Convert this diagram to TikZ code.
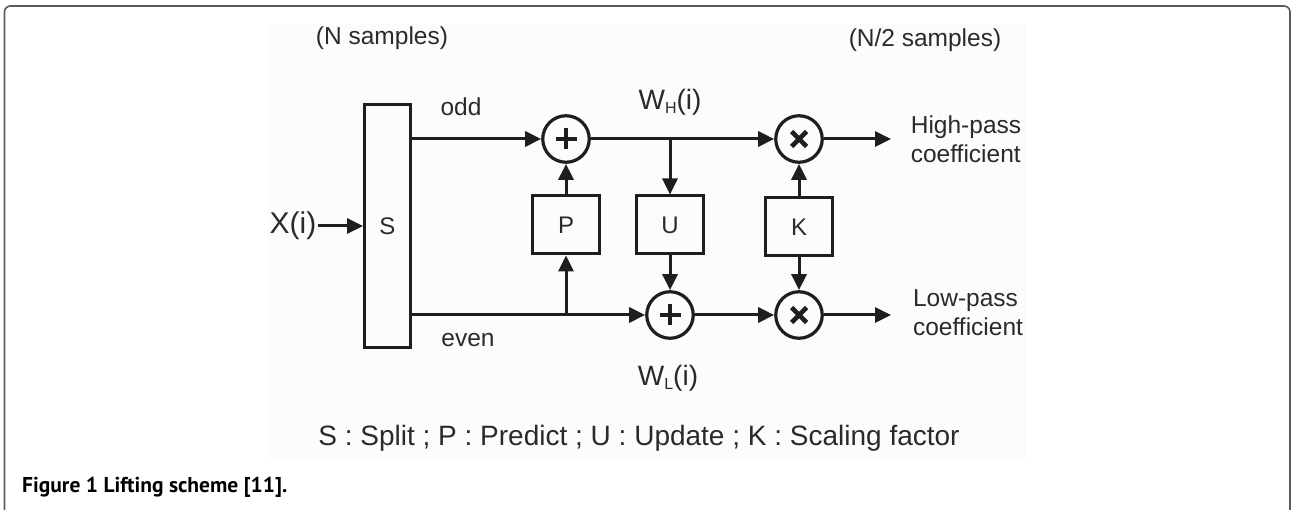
\documentclass[tikz,border=0pt]{standalone}
\usepackage{fontspec}
\setmainfont{Liberation Sans}
\newfontfamily\capfont{PT Sans}
\usetikzlibrary{arrows.meta}
\definecolor{ink}{HTML}{1E1E1E}
\definecolor{txt}{HTML}{2A2A2A}
\definecolor{panel}{HTML}{FCFCFC}
\definecolor{frame}{HTML}{5A5A5A}

\begin{document}
\begin{tikzpicture}[x=1pt,y=-1pt,
  lbl/.style={text=txt, inner sep=0pt, font=\fontsize{24.5}{29}\selectfont},
  blk/.style={draw=ink, line width=3pt, minimum width=67pt, minimum height=58pt,
              inner sep=0pt, text=txt, font=\fontsize{24}{28}\selectfont},
  opnode/.style={circle, draw=ink, line width=3.2pt, minimum size=46.5pt, inner sep=0pt},
  sumop/.style={opnode, path picture={
      \draw[ink, line width=4.6pt]
        ([xshift=-10.5pt]path picture bounding box.center) -- ([xshift=10.5pt]path picture bounding box.center)
        ([yshift=-10.5pt]path picture bounding box.center) -- ([yshift=10.5pt]path picture bounding box.center);}},
  mulop/.style={opnode, path picture={
      \draw[ink, line width=4.6pt]
        ([shift={(-7.5pt,-7.5pt)}]path picture bounding box.center) -- ([shift={(7.5pt,7.5pt)}]path picture bounding box.center)
        ([shift={(-7.5pt,7.5pt)}]path picture bounding box.center) -- ([shift={(7.5pt,-7.5pt)}]path picture bounding box.center);}},
  arr/.style={draw=ink, line width=3pt, -{Triangle[length=16pt,width=15pt]}},
]
\useasboundingbox (0,0) rectangle (1291,510);

% page frame and figure panel
\fill[panel] (268,24) rectangle (1026,460);
\draw[frame, line width=1.6pt, rounded corners=6pt] (4.5,530) -- (4.5,6) -- (1290,6) -- (1290,530);

% headings
\node[lbl] (nin)  at (382,38) {(N samples)};
\node[lbl] (nout) at (925,40) {(N/2 samples)};

% blocks
\node[blk, minimum width=46pt, minimum height=243pt] (S) at (387.5,226) {S};
\node[blk] (P) at (566,225) {P};
\node[blk] (U) at (670,225) {U};
\node[blk] (K) at (799,227) {K};

% adders and multipliers
\node[sumop] (addH) at (566,139) {};
\node[mulop] (mulH) at (799,139) {};
\node[sumop] (addL) at (670,315) {};
\node[mulop] (mulL) at (799,315) {};

% input
\node[text=txt, inner sep=1pt, font=\fontsize{30}{34}\selectfont] (x) at (293,226) {X(i)};

% outputs
\coordinate (outH) at (891,139);
\coordinate (outL) at (891,315);

% labels
\node[lbl] (odd)  at (461,107) {odd};
\node[lbl] (even) at (468,340) {even};
\node[text=txt, inner sep=0pt, font=\fontsize{28}{32}\selectfont] (wh) at (670,102)
  {W\raisebox{-4pt}{\fontsize{16}{18}\selectfont H}(i)};
\node[text=txt, inner sep=0pt, font=\fontsize{28}{32}\selectfont] (wl) at (668,378)
  {W\raisebox{-4pt}{\fontsize{16}{18}\selectfont L}(i)};
\node[lbl, align=left] (hp) at (966,139) {High-pass\\coefficient};
\node[lbl, align=left] (lp) at (968,313) {Low-pass\\coefficient};

% connectors
\draw[arr] (x) -- (S.west |- x);
\draw[arr] (S.east |- addH) -- (addH);
\draw[arr] (S.east |- addL) -- (addL);
\draw[arr] (P) -- (addH);
\draw[arr] (P |- addL) -- (P);
\draw[arr] (addH) -- (mulH);
\draw[arr] (U |- addH) -- (U);
\draw[arr] (U) -- (addL);
\draw[arr] (addL) -- (mulL);
\draw[arr] (K) -- (mulH);
\draw[arr] (K) -- (mulL);
\draw[arr] (mulH) -- (outH);
\draw[arr] (mulL) -- (outL);

% legend and caption
\node[text=txt, inner sep=0pt, font=\fontsize{28}{32}\selectfont] (legend) at (639,438)
  {S : Split ; P : Predict ; U : Update ; K : Scaling factor};
\node[anchor=base west, inner sep=0pt, font=\capfont\bfseries\fontsize{21.5}{24}\selectfont] (cap) at (22,493)
  {Figure 1 Lifting scheme [11].};
\end{tikzpicture}
\end{document}
